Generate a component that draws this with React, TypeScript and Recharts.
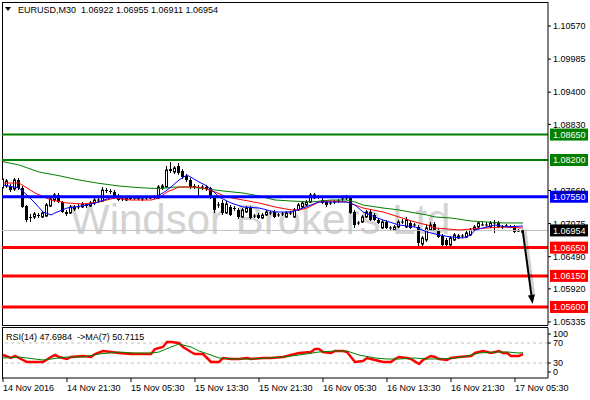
import React from 'react';
import { ComposedChart, Bar, Line, XAxis, YAxis, ReferenceLine } from 'recharts';

const FONT = '"Liberation Sans", Arial, sans-serif';

// ---- candles (EURUSD M30), index 0 = first visible bar ----
const opens = [
  1.07705, 1.07740, 1.07740, 1.07687, 1.07846, 1.07705, 1.07386, 1.07192, 1.07192, 1.07227,
  1.07192, 1.07209, 1.07386, 1.07492, 1.07581, 1.07457, 1.07280, 1.07263, 1.07333, 1.07369,
  1.07369, 1.07422, 1.07386, 1.07439, 1.07475, 1.07475, 1.07669, 1.07652, 1.07634, 1.07563,
  1.07510, 1.07492, 1.07528, 1.07510, 1.07528, 1.07510, 1.07510, 1.07528, 1.07528, 1.07528,
  1.07705, 1.07722, 1.08041, 1.07988, 1.08094, 1.08005, 1.07917, 1.07846, 1.07740, 1.07722,
  1.07705, 1.07722, 1.07705, 1.07546, 1.07404, 1.07439, 1.07263, 1.07369, 1.07351, 1.07316,
  1.07192, 1.07280, 1.07351, 1.07209, 1.07227, 1.07174, 1.07227, 1.07263, 1.07280, 1.07227,
  1.07245, 1.07192, 1.07263, 1.07192, 1.07316, 1.07369, 1.07404, 1.07457, 1.07528, 1.07546,
  1.07492, 1.07457, 1.07439, 1.07439, 1.07457, 1.07492, 1.07510, 1.07528, 1.07280, 1.07086,
  1.07103, 1.07192, 1.07280, 1.07227, 1.07139, 1.06997, 1.07103, 1.06997, 1.06962, 1.07015,
  1.07103, 1.07015, 1.07086, 1.07050, 1.07015, 1.06714, 1.06785, 1.06962, 1.07068, 1.06962,
  1.06856, 1.06785, 1.06697, 1.06785, 1.06820, 1.06856, 1.06838, 1.06874, 1.06962, 1.07015,
  1.07050, 1.07050, 1.07015, 1.07086, 1.07086, 1.07015, 1.07033, 1.07015, 1.07015, 1.06944,
  1.06922,
];
const highs = [
  1.07899, 1.07864, 1.07775, 1.07882, 1.07882, 1.07740, 1.07404, 1.07245, 1.07280, 1.07263,
  1.07298, 1.07439, 1.07546, 1.07616, 1.07616, 1.07475, 1.07316, 1.07404, 1.07404, 1.07422,
  1.07457, 1.07439, 1.07475, 1.07528, 1.07528, 1.07722, 1.07705, 1.07687, 1.07669, 1.07599,
  1.07546, 1.07563, 1.07563, 1.07546, 1.07563, 1.07546, 1.07563, 1.07563, 1.07581, 1.07758,
  1.07775, 1.08094, 1.08165, 1.08094, 1.08147, 1.08041, 1.07952, 1.07882, 1.07775, 1.07758,
  1.07758, 1.07758, 1.07722, 1.07581, 1.07457, 1.07492, 1.07475, 1.07404, 1.07386, 1.07351,
  1.07351, 1.07386, 1.07386, 1.07245, 1.07263, 1.07263, 1.07316, 1.07298, 1.07316, 1.07263,
  1.07280, 1.07298, 1.07298, 1.07351, 1.07439, 1.07475, 1.07492, 1.07616, 1.07616, 1.07581,
  1.07528, 1.07492, 1.07475, 1.07492, 1.07510, 1.07563, 1.07581, 1.07563, 1.07316, 1.07121,
  1.07227, 1.07316, 1.07316, 1.07263, 1.07174, 1.07139, 1.07139, 1.07033, 1.07050, 1.07139,
  1.07156, 1.07192, 1.07121, 1.07086, 1.07050, 1.06856, 1.07068, 1.07103, 1.07103, 1.06997,
  1.06891, 1.06820, 1.06856, 1.06909, 1.06891, 1.06891, 1.06944, 1.06997, 1.07050, 1.07121,
  1.07103, 1.07103, 1.07121, 1.07139, 1.07121, 1.07050, 1.07068, 1.07050, 1.07050, 1.06980,
  1.06955,
];
const lows = [
  1.07669, 1.07705, 1.07634, 1.07652, 1.07669, 1.07351, 1.07103, 1.07103, 1.07156, 1.07174,
  1.07174, 1.07192, 1.07369, 1.07457, 1.07439, 1.07263, 1.07209, 1.07245, 1.07298, 1.07333,
  1.07351, 1.07351, 1.07369, 1.07404, 1.07439, 1.07457, 1.07616, 1.07599, 1.07510, 1.07475,
  1.07475, 1.07475, 1.07492, 1.07492, 1.07492, 1.07475, 1.07492, 1.07510, 1.07510, 1.07510,
  1.07669, 1.07705, 1.07970, 1.07952, 1.07935, 1.07864, 1.07811, 1.07687, 1.07687, 1.07563,
  1.07669, 1.07652, 1.07510, 1.07263, 1.07351, 1.07227, 1.07245, 1.07209, 1.07298, 1.07156,
  1.07174, 1.07263, 1.07156, 1.07174, 1.07156, 1.07156, 1.07209, 1.07227, 1.07174, 1.07192,
  1.07209, 1.07174, 1.07227, 1.07174, 1.07298, 1.07351, 1.07386, 1.07439, 1.07510, 1.07510,
  1.07422, 1.07369, 1.07404, 1.07422, 1.07439, 1.07475, 1.07492, 1.07245, 1.06997, 1.07050,
  1.07086, 1.07174, 1.07121, 1.07121, 1.07068, 1.06980, 1.06980, 1.06962, 1.06944, 1.06997,
  1.07068, 1.06997, 1.06980, 1.07015, 1.06679, 1.06679, 1.06750, 1.06944, 1.06944, 1.06820,
  1.06679, 1.06679, 1.06679, 1.06767, 1.06803, 1.06820, 1.06820, 1.06856, 1.06944, 1.06997,
  1.07033, 1.07015, 1.06997, 1.06909, 1.06997, 1.06980, 1.07015, 1.06997, 1.06909, 1.06927,
  1.06911,
];
const closes = [
  1.07864, 1.07829, 1.07669, 1.07846, 1.07705, 1.07369, 1.07139, 1.07174, 1.07245, 1.07209,
  1.07263, 1.07404, 1.07510, 1.07581, 1.07457, 1.07280, 1.07245, 1.07369, 1.07369, 1.07369,
  1.07422, 1.07386, 1.07439, 1.07492, 1.07492, 1.07669, 1.07652, 1.07634, 1.07528, 1.07492,
  1.07510, 1.07528, 1.07510, 1.07528, 1.07510, 1.07510, 1.07528, 1.07528, 1.07546, 1.07722,
  1.07740, 1.08023, 1.08005, 1.08058, 1.07970, 1.07899, 1.07846, 1.07722, 1.07722, 1.07705,
  1.07722, 1.07687, 1.07546, 1.07316, 1.07404, 1.07263, 1.07422, 1.07227, 1.07333, 1.07192,
  1.07316, 1.07351, 1.07174, 1.07209, 1.07174, 1.07227, 1.07280, 1.07263, 1.07192, 1.07227,
  1.07245, 1.07263, 1.07263, 1.07316, 1.07404, 1.07439, 1.07457, 1.07581, 1.07581, 1.07546,
  1.07439, 1.07404, 1.07439, 1.07457, 1.07475, 1.07510, 1.07528, 1.07263, 1.07050, 1.07086,
  1.07192, 1.07280, 1.07139, 1.07139, 1.07086, 1.07103, 1.06997, 1.06997, 1.07015, 1.07103,
  1.07103, 1.07139, 1.06997, 1.07050, 1.06732, 1.06820, 1.06997, 1.07050, 1.06962, 1.06838,
  1.06697, 1.06697, 1.06820, 1.06874, 1.06856, 1.06856, 1.06909, 1.06962, 1.07015, 1.07086,
  1.07050, 1.07050, 1.07086, 1.07086, 1.07015, 1.07015, 1.07033, 1.07015, 1.06927, 1.06944,
  1.06954,
];

// ---- moving averages: [bar index, value] ----
const maFastPts: [number, number][] = [
  [0, 1.07758], [4, 1.07705], [6, 1.07581], [8, 1.07439], [10, 1.0728], [12, 1.07227], [13, 1.07263],
  [16, 1.07351], [18, 1.07369], [21, 1.07404], [23, 1.07439], [26, 1.0751], [28, 1.07563], [30, 1.07546],
  [34, 1.07528], [38, 1.07546], [40, 1.07616], [42, 1.07722], [44, 1.07846], [46, 1.07935], [49, 1.07811],
  [51, 1.0774], [53, 1.07616], [54, 1.07546], [57, 1.07439], [60, 1.07369], [64, 1.07351], [68, 1.0728],
  [72, 1.0728], [75, 1.07351], [77, 1.07404], [79, 1.07457], [83, 1.07457], [86, 1.07457], [88, 1.07404],
  [90, 1.0728], [93, 1.07192], [95, 1.07139], [99, 1.0705], [103, 1.07015], [106, 1.06927], [109, 1.06874],
  [112, 1.06838], [115, 1.0682], [117, 1.06874], [118, 1.06962], [121, 1.07015], [123, 1.0705],
  [126, 1.07015], [130, 1.07033],
];
const maMidPts: [number, number][] = [
  [0, 1.07793], [4, 1.07793], [8, 1.07616], [12, 1.07492], [16, 1.07439], [20, 1.07422], [24, 1.07457],
  [28, 1.07528], [32, 1.07492], [37, 1.07492], [39, 1.07528], [41, 1.07634], [44, 1.07722], [48, 1.07722],
  [50, 1.07705], [53, 1.07634], [56, 1.07546], [60, 1.07492], [64, 1.07439], [68, 1.07369], [72, 1.07316],
  [74, 1.07316], [76, 1.07351], [79, 1.07457], [82, 1.07475], [86, 1.07457], [88, 1.07404], [90, 1.07351],
  [95, 1.0728], [99, 1.07192], [103, 1.07103], [106, 1.0705], [108, 1.06997], [111, 1.0698], [114, 1.06962],
  [117, 1.0698], [121, 1.06997], [125, 1.07015], [130, 1.06997],
];
const maSlowPts: [number, number][] = [
  [0, 1.0817], [4, 1.08112], [9, 1.07988], [14, 1.07922], [19, 1.07846], [24, 1.07787], [29, 1.0774],
  [34, 1.07711], [39, 1.07693], [43, 1.07722], [47, 1.07722], [51, 1.07687], [55, 1.07652], [60, 1.07616],
  [64, 1.07563], [68, 1.07492], [72, 1.07475], [77, 1.07457], [82, 1.07492], [86, 1.07492], [88, 1.07457],
  [90, 1.07404], [95, 1.07351], [99, 1.07316], [103, 1.07263], [106, 1.07227], [108, 1.07192],
  [112, 1.07174], [117, 1.07121], [121, 1.07103], [125, 1.07086], [130, 1.07086],
];

// ---- RSI(14) and its MA(7) ----
const rsiPts: [number, number][] = [
  [0, 46], [2, 40], [3, 44], [4, 40], [6, 32], [8, 32], [10, 32], [12, 42], [13, 46], [14, 42], [16, 38],
  [17, 42], [20, 44], [22, 42], [23, 48], [25, 54], [27, 52], [29, 50], [32, 48], [34, 48], [37, 48],
  [38, 58], [40, 62], [41, 72], [42, 72], [44, 70], [45, 62], [47, 52], [48, 48], [50, 48], [51, 40],
  [52, 32], [54, 32], [55, 40], [57, 38], [59, 38], [61, 40], [62, 38], [65, 40], [67, 40], [70, 42],
  [72, 46], [74, 50], [77, 52], [78, 58], [79, 58], [80, 52], [82, 50], [83, 54], [85, 54], [86, 52],
  [87, 42], [88, 32], [90, 34], [91, 40], [92, 38], [95, 32], [97, 32], [98, 38], [99, 42], [101, 40],
  [102, 38], [104, 28], [105, 36], [107, 44], [108, 42], [109, 38], [111, 36], [112, 40], [114, 42],
  [117, 44], [118, 50], [120, 54], [121, 52], [122, 50], [124, 54], [125, 50], [126, 50], [127, 44],
  [129, 44], [130, 47.6984],
];
const rsiMaPts: [number, number][] = [
  [0, 40], [4, 42], [8, 38], [10, 36], [14, 40], [16, 42], [20, 42], [24, 48], [29, 52], [33, 50],
  [37, 50], [39, 52], [42, 62], [44, 68], [47, 62], [49, 54], [52, 46], [54, 40], [58, 38], [62, 38],
  [66, 40], [70, 42], [74, 46], [79, 52], [83, 54], [86, 54], [89, 46], [93, 40], [96, 38], [99, 38],
  [103, 40], [106, 38], [109, 38], [113, 40], [116, 44], [119, 50], [123, 52], [126, 52], [129, 50],
  [130, 50.7115],
];

// ---- levels, ticks, labels ----
const greenLevels = [1.0865, 1.082];
const blueLevels = [1.0755];
const redLevels = [1.0665, 1.0615, 1.056];
const lastPrice = 1.06954;
const priceTicks = [1.1057, 1.09985, 1.094, 1.0883, 1.0766, 1.07075, 1.0649, 1.0592, 1.05335];
const priceDomain = [1.05281, 1.10995];
const timeTickIdx = [0, 16, 32, 48, 64, 80, 96, 112, 128];
const timeLabels = [
  '14 Nov 2016', '14 Nov 21:30', '15 Nov 05:30', '15 Nov 13:30', '15 Nov 21:30',
  '16 Nov 05:30', '16 Nov 13:30', '16 Nov 21:30', '17 Nov 05:30',
];
const rsiTicks = [0, 30, 70, 100];
const rsiLevels = [70, 30];
const arrowFrom = { x: 129.9, y: 1.06962 };
const arrowTo = { x: 132.4, y: 1.05653 };
const xDomain = [-0.25, 136.25];

const toMap = (pts: [number, number][]) => new Map(pts.map(([i, v]) => [i, v]));
const fastMap = toMap(maFastPts);
const midMap = toMap(maMidPts);
const slowMap = toMap(maSlowPts);
const rsiMap = toMap(rsiPts);
const rsiMaMap = toMap(rsiMaPts);

const priceData = opens.map((o, i) => ({
  i,
  o,
  h: highs[i],
  l: lows[i],
  c: closes[i],
  range: [lows[i], highs[i]],
  maFast: fastMap.has(i) ? fastMap.get(i) : null,
  maMid: midMap.has(i) ? midMap.get(i) : null,
  maSlow: slowMap.has(i) ? slowMap.get(i) : null,
}));
const rsiData = opens.map((_, i) => ({
  i,
  rsi: rsiMap.has(i) ? rsiMap.get(i) : null,
  rsiMa: rsiMaMap.has(i) ? rsiMaMap.get(i) : null,
}));

const Candle = (props: any) => {
  const { x, y, width, height, payload } = props;
  if (!payload || x == null || isNaN(x)) return null;
  const { o, h, l, c } = payload;
  const cx = Math.floor(x + width / 2) + 0.5;
  const k = h - l > 0 ? height / (h - l) : 0;
  const yO = y + (h - o) * k;
  const yC = y + (h - c) * k;
  const top = Math.min(yO, yC);
  const bot = Math.max(yO, yC);
  const bull = c >= o;
  return (
    <g>
      <line x1={cx} x2={cx} y1={y} y2={y + height} stroke="#000" strokeWidth={1} />
      {bull ? (
        bot - top >= 1.5 ? (
          <rect x={cx - 1} y={top} width={2} height={bot - top} fill="#fff" stroke="#000" strokeWidth={1} />
        ) : (
          <line x1={cx - 1.5} x2={cx + 1.5} y1={top} y2={top} stroke="#000" strokeWidth={1} />
        )
      ) : (
        <rect x={cx - 1.5} y={top} width={3} height={Math.max(bot - top, 1)} fill="#000" />
      )}
    </g>
  );
};

const Tag = (props: any) => {
  const { viewBox, text, bg } = props;
  if (!viewBox) return null;
  const y = viewBox.y;
  const x = viewBox.x + viewBox.width + 2;
  return (
    <g>
      <rect x={x} y={y - 6} width={38} height={12} fill={bg} />
      <text x={x + 3} y={y} dy="0.36em" fontSize={9} fill="#fff" fontFamily={FONT}>
        {text}
      </text>
    </g>
  );
};

const ArrowShape = (props: any) => {
  const { x1, y1, x2, y2 } = props;
  if ([x1, y1, x2, y2].some((v) => v == null || isNaN(v))) return null;
  const ang = Math.atan2(y2 - y1, x2 - x1);
  const len = 9;
  const half = 3.5;
  const bx = x2 - len * Math.cos(ang);
  const by = y2 - len * Math.sin(ang);
  const px = -Math.sin(ang) * half;
  const py = Math.cos(ang) * half;
  return (
    <g>
      <line x1={x1 + 2} y1={y1 + 1} x2={bx + 2} y2={by + 1} stroke="#000" strokeOpacity={0.18} strokeWidth={4} />
      <line x1={x1} y1={y1} x2={bx} y2={by} stroke="#000" strokeWidth={2} />
      <polygon points={`${x2},${y2} ${bx + px},${by + py} ${bx - px},${by - py}`} fill="#000" />
    </g>
  );
};

const TimeTick = (props: any) => {
  const { x, y, payload } = props;
  const idx = timeTickIdx.indexOf(payload.value);
  return (
    <text x={x} y={y + 7} fontSize={9} fill="#000" fontFamily={FONT} textAnchor="start">
      {idx >= 0 ? timeLabels[idx] : ''}
    </text>
  );
};

const RsiTick = (props: any) => {
  const { x, y, payload } = props;
  const v = payload.value;
  const dy = v === 100 ? 6 : v === 0 ? -6 : 0;
  return (
    <g>
      <line x1={x - 5} x2={x - 2} y1={y + dy} y2={y + dy} stroke="#000" />
      <text x={x} y={y + dy} dy="0.36em" fontSize={9} fill="#000" fontFamily={FONT} textAnchor="start">
        {v}
      </text>
    </g>
  );
};

export default function App() {
  return (
    <div style={{ position: 'absolute', left: 0, top: 0, width: 590, height: 400, background: '#fff', overflow: 'hidden' }}>
      {/* watermark */}
      <div
        style={{
          position: 'absolute', left: 70, top: 196, fontFamily: FONT, fontSize: 42, color: '#d3d3d3',
          whiteSpace: 'pre', lineHeight: '48px',
        }}
      >
        Windsor Brokers Ltd
      </div>
      {/* panel frames */}
      <div style={{ position: 'absolute', left: 2, top: 2, width: 546, height: 324, boxSizing: 'border-box', borderLeft: '1px solid #000', borderTop: '1px solid #000', borderBottom: '1px solid #000' }} />
      <div style={{ position: 'absolute', left: 2, top: 327, width: 546, height: 52, boxSizing: 'border-box', borderLeft: '1px solid #000', borderTop: '1px solid #000' }} />

      <div style={{ position: 'absolute', left: 0, top: 0 }}>
        <ComposedChart width={590} height={327} data={priceData} margin={{ top: 2, right: 0, bottom: 2, left: 2 }}>
          <XAxis type="number" dataKey="i" domain={xDomain} hide allowDataOverflow />
          <YAxis
            orientation="right"
            type="number"
            domain={priceDomain}
            allowDataOverflow
            ticks={priceTicks}
            interval={0}
            width={42}
            tickSize={3}
            tickMargin={2}
            tickFormatter={(v: number) => v.toFixed(5)}
            tick={{ fontSize: 9, fill: '#000', fontFamily: FONT }}
            tickLine={{ stroke: '#000' }}
            axisLine={{ stroke: '#000' }}
          />
          <ReferenceLine y={lastPrice} stroke="#c0c0c0" strokeWidth={1} />
          <Bar dataKey="range" shape={<Candle />} barSize={3} isAnimationActive={false} />
          <Line dataKey="maSlow" type="linear" stroke="#008000" strokeWidth={1} dot={false} connectNulls isAnimationActive={false} />
          <Line dataKey="maMid" type="linear" stroke="#ff0000" strokeWidth={1} dot={false} connectNulls isAnimationActive={false} />
          <Line dataKey="maFast" type="linear" stroke="#0000ff" strokeWidth={1} dot={false} connectNulls isAnimationActive={false} />
          {greenLevels.map((v) => (
            <ReferenceLine key={`g${v}`} y={v} stroke="#008000" strokeWidth={2} label={<Tag text={v.toFixed(5)} bg="#008000" />} />
          ))}
          {blueLevels.map((v) => (
            <ReferenceLine key={`b${v}`} y={v} stroke="#0000ff" strokeWidth={3} label={<Tag text={v.toFixed(5)} bg="#0000ff" />} />
          ))}
          {redLevels.map((v) => (
            <ReferenceLine key={`r${v}`} y={v} stroke="#ff0000" strokeWidth={3} label={<Tag text={v.toFixed(5)} bg="#ff0000" />} />
          ))}
          <ReferenceLine y={lastPrice} stroke="none" label={<Tag text={lastPrice.toFixed(5)} bg="#000000" />} />
          <ReferenceLine segment={[arrowFrom, arrowTo]} shape={ArrowShape} />
        </ComposedChart>
      </div>

      <div style={{ position: 'absolute', left: 0, top: 327 }}>
        <ComposedChart width={590} height={73} data={rsiData} margin={{ top: 1, right: 0, bottom: 0, left: 2 }}>
          <XAxis
            type="number"
            dataKey="i"
            domain={xDomain}
            allowDataOverflow
            ticks={timeTickIdx}
            interval={0}
            height={22}
            tickSize={4}
            tickMargin={2}
            tick={<TimeTick />}
            tickLine={{ stroke: '#000' }}
            axisLine={{ stroke: '#000' }}
          />
          <YAxis
            orientation="right"
            type="number"
            domain={[0, 100]}
            ticks={rsiTicks}
            interval={0}
            width={42}
            tickSize={3}
            tickMargin={2}
            tick={<RsiTick />}
            tickLine={false}
            axisLine={{ stroke: '#000' }}
          />
          {rsiLevels.map((v) => (
            <ReferenceLine key={`l${v}`} y={v} stroke="#c0c0c0" strokeDasharray="3 3" />
          ))}
          <Line dataKey="rsi" type="linear" stroke="#ff0000" strokeWidth={2.5} dot={false} connectNulls isAnimationActive={false} />
          <Line dataKey="rsiMa" type="linear" stroke="#008000" strokeWidth={1} dot={false} connectNulls isAnimationActive={false} />
        </ComposedChart>
      </div>

      {/* titles */}
      <div style={{ position: 'absolute', left: 5, top: 7, width: 0, height: 0, borderLeft: '3px solid transparent', borderRight: '3px solid transparent', borderTop: '4px solid #000' }} />
      <div style={{ position: 'absolute', left: 18, top: 4, fontFamily: FONT, fontSize: 9, whiteSpace: 'pre', lineHeight: '12px', color: '#000' }}>
        {'EURUSD,M30  1.06922 1.06955 1.06911 1.06954'}
      </div>
      <div style={{ position: 'absolute', left: 6, top: 331, fontFamily: FONT, fontSize: 9, whiteSpace: 'pre', lineHeight: '12px', color: '#000' }}>
        {'RSI(14) 47.6984  ->MA(7) 50.7115'}
      </div>
    </div>
  );
}
